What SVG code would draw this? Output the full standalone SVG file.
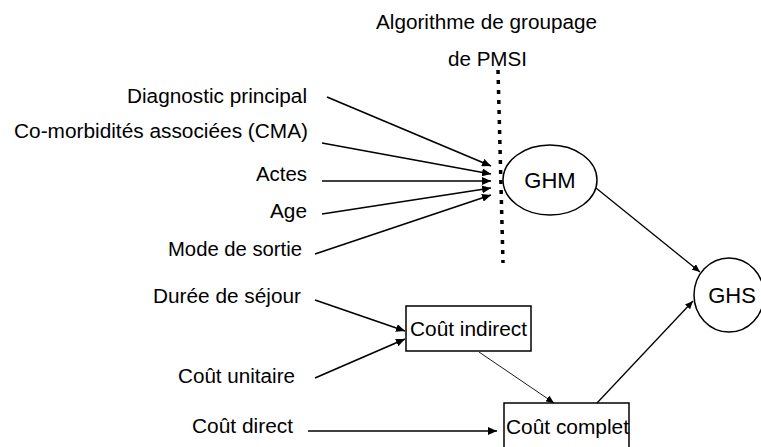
<svg xmlns="http://www.w3.org/2000/svg" width="761" height="447" viewBox="0 0 761 447">
<style>
text{font-family:"Liberation Sans",Arial,sans-serif;fill:#000}
.lbl{font-size:20px;text-anchor:end}
.node{fill:#fff;stroke:#000;stroke-width:1.5}
.c{fill:none;stroke:#000}
.thick{stroke-width:1.7}
.mid{stroke-width:1.3}
.thin{stroke-width:0.9}
</style>
<defs>
<marker id="ah" markerUnits="userSpaceOnUse" markerWidth="10" markerHeight="8" refX="9" refY="4" orient="auto">
<path d="M0,0 L9,4 L0,8 z" fill="#000"/>
</marker>
<marker id="ahs" markerUnits="userSpaceOnUse" markerWidth="9" markerHeight="7" refX="8" refY="3.5" orient="auto">
<path d="M0,0 L8,3.5 L0,7 z" fill="#000"/>
</marker>
</defs>
<rect width="761" height="447" fill="#fff"/>

<g id="title">
<text x="376" y="29" font-size="20" textLength="221" lengthAdjust="spacingAndGlyphs">Algorithme de groupage</text>
<text x="448" y="66" font-size="20" textLength="79" lengthAdjust="spacingAndGlyphs">de PMSI</text>
</g>

<g id="algo-line">
<line x1="498" y1="70" x2="503" y2="263" stroke="#000" stroke-width="3.5" stroke-dasharray="4 6"/>
</g>

<g id="labels">
<text id="diag" class="lbl" x="307" y="103" textLength="180" lengthAdjust="spacingAndGlyphs">Diagnostic principal</text>
<text id="cma" class="lbl" x="308" y="138" textLength="294" lengthAdjust="spacingAndGlyphs">Co-morbidités associées (CMA)</text>
<text id="actes" class="lbl" x="307" y="181" textLength="51" lengthAdjust="spacingAndGlyphs">Actes</text>
<text id="age" class="lbl" x="307" y="218" textLength="37" lengthAdjust="spacingAndGlyphs">Age</text>
<text id="sortie" class="lbl" x="302" y="256" textLength="134" lengthAdjust="spacingAndGlyphs">Mode de sortie</text>
<text id="duree" class="lbl" x="301" y="303" textLength="148" lengthAdjust="spacingAndGlyphs">Durée de séjour</text>
<text id="unitaire" class="lbl" x="295" y="383" textLength="117" lengthAdjust="spacingAndGlyphs">Coût unitaire</text>
<text id="direct" class="lbl" x="293" y="433" textLength="101" lengthAdjust="spacingAndGlyphs">Coût direct</text>
</g>

<g id="GHM">
<ellipse class="node" cx="550" cy="180" rx="47" ry="35"/>
<text x="550" y="188" font-size="22" text-anchor="middle">GHM</text>
</g>

<g id="GHS">
<ellipse class="node" cx="729" cy="295" rx="35" ry="37"/>
<text x="732" y="303" font-size="22" text-anchor="middle">GHS</text>
</g>

<g id="cout-indirect">
<rect class="node" x="406" y="306" width="125" height="45"/>
<text x="410" y="336" font-size="21" textLength="117" lengthAdjust="spacingAndGlyphs">Coût indirect</text>
</g>

<g id="cout-complet">
<rect class="node" x="504" y="403" width="125" height="60"/>
<text x="506" y="434" font-size="21" textLength="123" lengthAdjust="spacingAndGlyphs">Coût complet</text>
</g>

<g id="connectors">
<line class="c thick" x1="327" y1="97" x2="491" y2="166" marker-end="url(#ah)"/>
<line class="c thick" x1="322" y1="143" x2="491" y2="174" marker-end="url(#ah)"/>
<line class="c thick" x1="322" y1="181" x2="491" y2="181" marker-end="url(#ah)"/>
<line class="c thick" x1="322" y1="214" x2="491" y2="188" marker-end="url(#ah)"/>
<line class="c thick" x1="315" y1="254" x2="491" y2="195" marker-end="url(#ah)"/>
<line class="c mid" x1="596" y1="188" x2="700" y2="272" marker-end="url(#ahs)"/>
<line class="c thick" x1="315" y1="300" x2="405" y2="331" marker-end="url(#ah)"/>
<line class="c thick" x1="315" y1="378" x2="405" y2="339" marker-end="url(#ah)"/>
<line class="c thin" x1="479" y1="352" x2="554" y2="403" marker-end="url(#ahs)"/>
<line class="c mid" x1="308" y1="431" x2="497" y2="431" marker-end="url(#ah)"/>
<line class="c mid" x1="597" y1="403" x2="693" y2="301" marker-end="url(#ahs)"/>
</g>
</svg>
